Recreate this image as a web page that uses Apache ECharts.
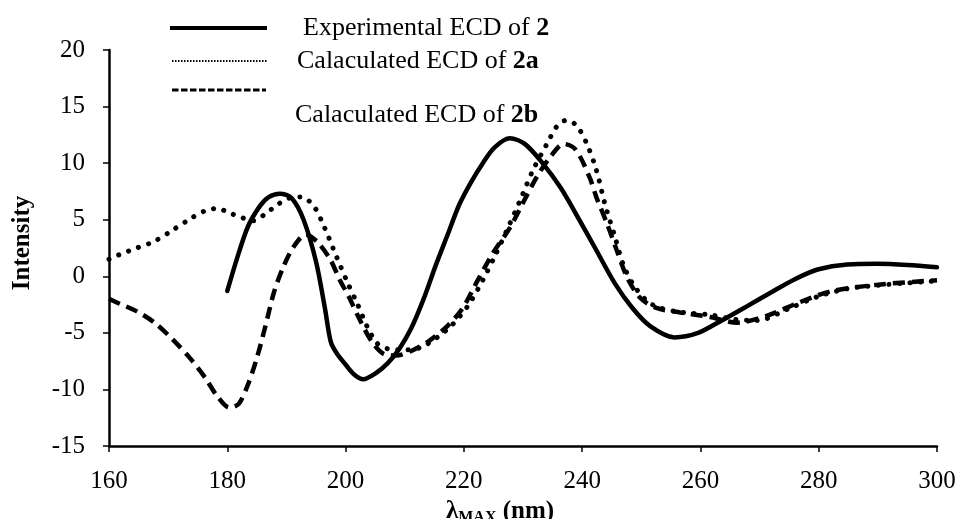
<!DOCTYPE html>
<html>
<head>
<meta charset="utf-8">
<script src="https://cdn.jsdelivr.net/npm/echarts@6/dist/echarts.min.js"></script>
<style>
  html, body { margin: 0; padding: 0; background: #fff; }
  #chart { width: 959px; height: 519px; }
</style>
</head>
<body>
<div id="chart"></div>
<script>
// wavelength (nm) and intensity for each curve
const expWl = [180, 181.6, 183.5, 185.5, 187, 188.9, 190.9, 192.9, 195, 196.5, 197.5, 198.5, 200, 201.5, 203, 205, 207.1, 209.1, 211.1, 213.2, 215.2, 217.2, 219.2, 221.2, 223.2, 225.2, 227.8, 230.3, 233.3, 236.4, 239.4, 242.4, 245.5, 248.5, 251.5, 255.6, 259.6, 263.6, 267.7, 271.7, 275.8, 279.8, 284.8, 289.9, 295, 300];
const expVal = [-1.3, 1.5, 4.4, 6.2, 7.0, 7.3, 6.9, 5.0, 1.3, -2.8, -5.8, -6.8, -7.8, -8.7, -9.1, -8.6, -7.7, -6.4, -4.6, -2.0, 0.9, 3.6, 6.3, 8.3, 10.0, 11.4, 12.2, 11.7, 10.0, 7.8, 5.1, 2.3, -0.6, -2.8, -4.4, -5.4, -5.0, -3.9, -2.7, -1.5, -0.3, 0.6, 1.05, 1.1, 1.0, 0.8];

const calcAWl = [160, 161.7, 164.7, 167.7, 170.8, 173.8, 176.3, 178.3, 180.35, 182.4, 184.4, 186.4, 188.4, 190.45, 192.5, 194.5, 196.2, 198.5, 200.2, 202.05, 203.7, 205.3, 207.1, 210.1, 212.65, 215.5, 218.2, 220.7, 223.25, 225.25, 227.3, 229.5, 231.7, 234.05, 235.8, 237.4, 239.1, 240.8, 242.4, 243.9, 245.6, 246.9, 248.6, 251, 253.2, 257.1, 261.6, 265.7, 269.7, 274.75, 279.8, 284.85, 289.9, 294.95, 300];
const calcAVal = [1.5, 1.9, 2.5, 3.1, 4.1, 5.1, 5.8, 6.0, 5.6, 5.2, 4.9, 5.5, 6.3, 6.9, 7.0, 6.3, 4.6, 1.7, -0.4, -2.5, -4.5, -5.9, -6.4, -6.5, -6.3, -5.4, -4.2, -2.6, -0.3, 1.8, 4.1, 6.7, 9.4, 11.7, 13.3, 13.8, 13.3, 11.7, 9.4, 6.3, 3.4, 1.1, -0.7, -2.2, -2.8, -3.2, -3.4, -3.8, -3.9, -2.9, -1.8, -1.1, -0.8, -0.6, -0.4];

const calcBWl = [160, 161.7, 164.7, 167.7, 170.8, 173.8, 176.3, 178.3, 180.35, 181.9, 183.4, 184.9, 186.4, 187.9, 189.45, 191.2, 193.3, 195.3, 197.4, 199, 200.55, 202.55, 204.6, 206.6, 208.6, 211.1, 214.15, 217.2, 219.7, 222.2, 224.85, 227.8, 230.3, 232.35, 234.55, 236.9, 238.9, 241.3, 242.4, 244.25, 245.85, 247.6, 249.8, 252.55, 256.6, 261.6, 266.15, 271.2, 276.75, 282.3, 290.9, 300];
const calcBVal = [-2.0, -2.4, -3.1, -4.1, -5.6, -7.3, -9.0, -10.6, -11.6, -11.3, -9.7, -7.4, -4.5, -1.4, 0.8, 2.6, 3.7, 3.0, 1.5, -0.3, -1.8, -4.0, -5.9, -6.9, -7.0, -6.6, -5.7, -4.4, -2.9, -0.5, 2.0, 4.3, 6.8, 8.8, 10.5, 11.7, 11.2, 8.7, 7.0, 4.6, 2.3, -0.1, -1.9, -2.8, -3.2, -3.6, -4.1, -3.5, -2.3, -1.3, -0.7, -0.35];

const xTicks = [160, 180, 200, 220, 240, 260, 280, 300];
const yTicks = [-15, -10, -5, 0, 5, 10, 15, 20];

const legendNames = ["Experimental ECD of {b|2}", "Calaculated ECD of {b|2a}", "Calaculated ECD of {b|2b}"];

const pairs = (xs, ys) => xs.map((x, i) => [x, ys[i]]);

const chart = echarts.init(document.getElementById("chart"));

const font = "'Liberation Serif', 'Times New Roman', serif";
const boldRich = { b: { fontFamily: font, fontSize: 26, fontWeight: "bold", fill: "#000" } };

const option = {
  animation: false,
  textStyle: { fontFamily: font, color: "#000" },
  grid: { left: 109, right: 22, top: 50, bottom: 73, outerBoundsMode: "none" },

  xAxis: {
    type: "value",
    min: xTicks[0],
    max: xTicks[xTicks.length - 1],
    interval: 20,
    name: "λ{sub|MAX} (nm)",
    nameLocation: "middle",
    nameGap: 42,
    nameTextStyle: {
      fontFamily: font, fontSize: 25, fontWeight: "bold", color: "#000",
      padding: [0, 46, 0, 0],
      rich: {
        sub: { fontFamily: font, fontSize: 16, fontWeight: "bold", color: "#000", padding: [12, 0, 0, 0] }
      }
    },
    axisLine: { onZero: false, lineStyle: { color: "#000", width: 2.5 } },
    axisTick: { length: 6, lineStyle: { color: "#000", width: 1.5 } },
    axisLabel: { fontFamily: font, fontSize: 25, color: "#000", margin: 23 },
    splitLine: { show: false }
  },

  yAxis: {
    type: "value",
    min: yTicks[0],
    max: yTicks[yTicks.length - 1],
    interval: 5,
    name: "Intensity",
    nameLocation: "middle",
    nameGap: 74,
    nameTextStyle: { fontFamily: font, fontSize: 25, fontWeight: "bold", color: "#000", padding: [0, 0, 0, 10] },
    axisLine: { show: true, lineStyle: { color: "#000", width: 2.5 } },
    axisTick: { show: true, length: 6, lineStyle: { color: "#000", width: 1.5 } },
    axisLabel: { fontFamily: font, fontSize: 25, color: "#000", margin: 24 },
    splitLine: { show: false }
  },

  series: [
    {
      name: "exp",
      type: "line",
      data: pairs(expWl, expVal),
      showSymbol: false,
      smooth: 0.3,
      z: 3,
      lineStyle: { color: "#000", width: 4.5, cap: "round" }
    },
    {
      name: "2a",
      type: "line",
      data: pairs(calcAWl, calcAVal),
      showSymbol: false,
      smooth: 0.3,
      lineStyle: { color: "#000", width: 5, type: [0.1, 10.5], cap: "round" }
    },
    {
      name: "2b",
      type: "line",
      data: pairs(calcBWl, calcBVal),
      showSymbol: false,
      smooth: 0.3,
      lineStyle: { color: "#000", width: 4.5, type: [12, 7], cap: "butt" }
    }
  ],

  // legend drawn by hand: sample lines and labels sit apart in the original
  graphic: [
    { type: "line", shape: { x1: 170, y1: 28, x2: 267, y2: 28 }, style: { stroke: "#000", lineWidth: 4 } },
    { type: "line", shape: { x1: 172, y1: 61, x2: 267, y2: 61 }, style: { stroke: "#000", lineWidth: 2, lineDash: [1.5, 1.5] } },
    { type: "line", shape: { x1: 172, y1: 90, x2: 266, y2: 90 }, style: { stroke: "#000", lineWidth: 3, lineDash: [6.5, 2.5] } },
    {
      type: "text", left: 303, top: 15,
      style: { text: legendNames[0], font: "26px " + font, fill: "#000", rich: boldRich }
    },
    {
      type: "text", left: 297, top: 48,
      style: { text: legendNames[1], font: "26px " + font, fill: "#000", rich: boldRich }
    },
    {
      type: "text", left: 295, top: 102,
      style: { text: legendNames[2], font: "26px " + font, fill: "#000", rich: boldRich }
    }
  ]
};

chart.setOption(option);
</script>
</body>
</html>
